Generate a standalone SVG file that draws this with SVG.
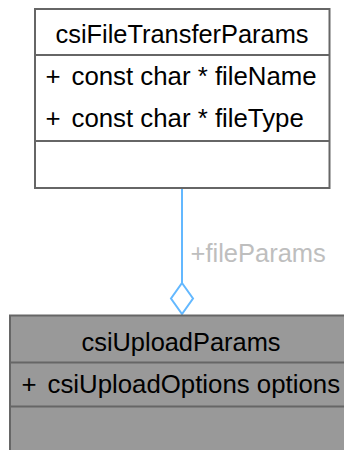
<svg xmlns="http://www.w3.org/2000/svg" width="344" height="450" viewBox="0 0 344 450">
<style>
text{font-family:"Liberation Sans",Arial,sans-serif;font-size:25.8px;fill:#000}
.title{font-size:25.4px;text-anchor:middle}
.box{stroke:#666666;stroke-width:2}
.sep{stroke:#666666;stroke-width:2}
.edge{stroke:#63b8ff;stroke-width:2;fill:none}
.lbl{fill:#bebebe;font-size:25.5px}
</style>
<rect width="344" height="450" fill="#ffffff"/>
<g id="connectors">
<line class="edge" x1="182" y1="189" x2="182" y2="283"/>
<polygon class="edge" points="182,283 193,298.5 182,314 171,298.5" style="fill:#ffffff"/>
<text class="lbl" x="190.5" y="261.5">+fileParams</text>
</g>
<g id="csiFileTransferParams">
<rect class="box" x="35" y="9" width="294.5" height="179" fill="#ffffff"/>
<line class="sep" x1="35" y1="55" x2="329.5" y2="55"/>
<line class="sep" x1="35" y1="141" x2="329.5" y2="141"/>
<text class="title" x="182" y="43">csiFileTransferParams</text>
<text x="45.5" y="84.5">+</text>
<text x="71.5" y="84.5">const char * fileName</text>
<text x="45.5" y="127">+</text>
<text x="71.5" y="127">const char * fileType</text>
</g>
<g id="csiUploadParams">
<rect class="box" x="10" y="315.5" width="345" height="150" fill="#999999"/>
<line class="sep" x1="10" y1="362.5" x2="344" y2="362.5"/>
<line class="sep" x1="10" y1="406.5" x2="344" y2="406.5"/>
<text class="title" x="181" y="350.5">csiUploadParams</text>
<text x="21.5" y="393">+</text>
<text x="47.5" y="393">csiUploadOptions options</text>
</g>
</svg>
